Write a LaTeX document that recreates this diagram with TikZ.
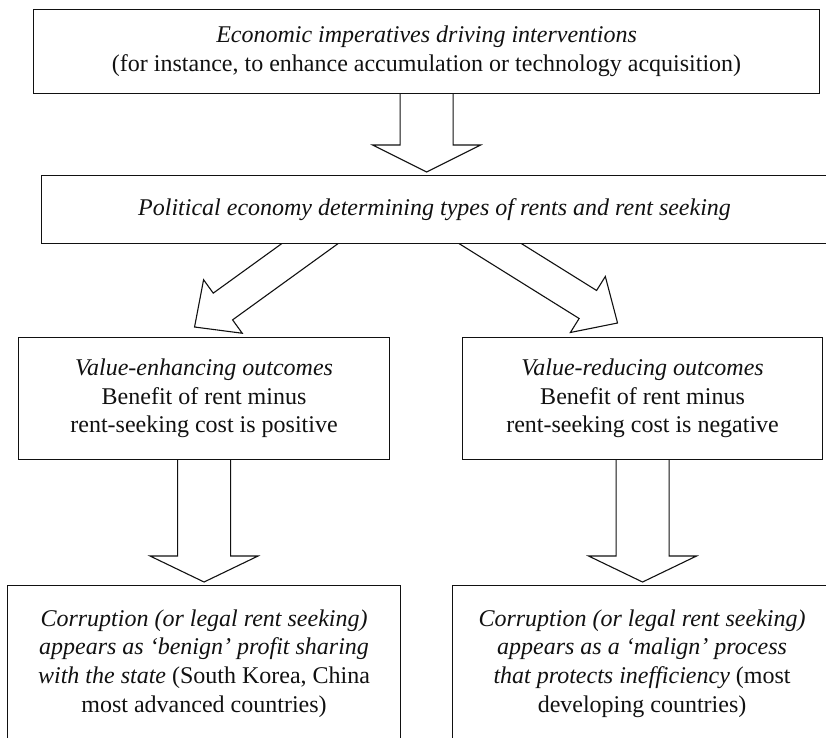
\documentclass[tikz,border=0pt]{standalone}
\usepackage{fontspec}
\setmainfont{Liberation Serif}
\usepackage{tikz}
\usetikzlibrary{calc,backgrounds}
\definecolor{cInk}{HTML}{111111}

% hollow block arrow: from, tip, shaft half width, head half width, head length
\newcommand{\blockarrow}[5]{%
  \coordinate (ba-m) at ($(#2)!#5!(#1)$);
  \draw[fat] ($(#1)!#3!90:(#2)$) -- ($(ba-m)!#3!90:(#2)$) -- ($(ba-m)!#4!90:(#2)$)
    -- (#2) -- ($(ba-m)!#4!-90:(#2)$) -- ($(ba-m)!#3!-90:(#2)$) -- ($(#1)!#3!-90:(#2)$);
}

\begin{document}
\begin{tikzpicture}[x=1pt, y=-1pt,
  font=\fontsize{24}{28.7}\selectfont,
  box/.style={rectangle, draw=cInk, line width=1.1pt, fill=white, align=center,
     inner sep=0pt, anchor=north west, text=cInk},
  fat/.style={draw=cInk, line width=1.1pt, line join=miter},
]
\useasboundingbox (0,0) rectangle (826,737);
\clip (0,0) rectangle (826,737);

% =================== BOXES ===================
\node[box, minimum width=786pt, minimum height=84pt] (imp) at (33,9)
 {\textit{Economic imperatives driving interventions}\\
  (for instance, to enhance accumulation or technology acquisition)};

\node[box, minimum width=786pt, minimum height=68pt] (pe) at (41,175)
 {\textit{Political economy determining types of rents and rent seeking}};

\node[box, minimum width=371pt, minimum height=122pt] (enh) at (18,337)
 {\textit{Value-enhancing outcomes}\\ Benefit of rent minus\\ rent-seeking cost is positive};
\node[box, minimum width=360pt, minimum height=122pt] (red) at (462,337)
 {\textit{Value-reducing outcomes}\\ Benefit of rent minus\\ rent-seeking cost is negative};

\node[box, minimum width=393pt, minimum height=156pt] (ben) at (7,585)
 {\textit{Corruption (or legal rent seeking)}\\ \textit{appears as `benign' profit sharing}\\
  \textit{with the state} (South Korea, China\\ most advanced countries)};
\node[box, minimum width=379pt, minimum height=156pt] (mal) at (452,585)
 {\textit{Corruption (or legal rent seeking)}\\ \textit{appears as a `malign' process}\\
  \textit{that protects inefficiency} (most\\ developing countries)};

% =================== ARROWS ===================
\coordinate (t1) at ($(imp.south |- pe.north)+(0,-3)$);
\coordinate (sL) at (355,211);
\coordinate (tL) at ($(enh.north)+(-9.5,-10)$);
\coordinate (sR) at (438,211);
\coordinate (tR) at ($(red.north)+(-25,-14)$);
\coordinate (t3L) at ($(enh.south |- ben.north)+(0,-3)$);
\coordinate (t3R) at ($(red.south |- mal.north)+(0,-3)$);

\begin{scope}[on background layer]
\blockarrow{imp.center}{t1}{26.5pt}{54pt}{27pt}
\blockarrow{sL}{tL}{16.5pt}{33pt}{35pt}
\blockarrow{sR}{tR}{16.5pt}{33pt}{35pt}
\blockarrow{enh.center}{t3L}{26.5pt}{54pt}{26pt}
\blockarrow{red.center}{t3R}{26.5pt}{54pt}{26pt}
\end{scope}

\end{tikzpicture}
\end{document}
